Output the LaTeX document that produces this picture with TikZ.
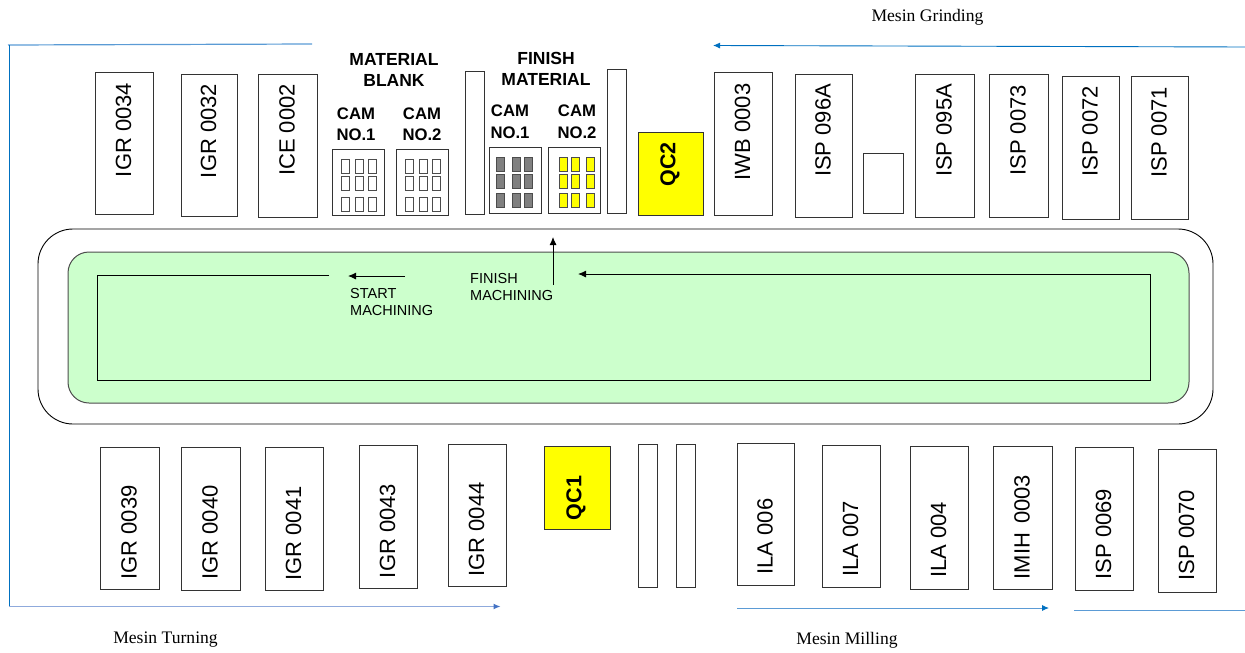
\documentclass[tikz,border=0pt]{standalone}
\usepackage{fontspec}
\setmainfont{Liberation Sans}
\newfontfamily\serifcap{Liberation Serif}
\usetikzlibrary{arrows.meta}
\definecolor{flowblue}{RGB}{0,112,192}
\definecolor{flowlight}{RGB}{91,155,213}
\definecolor{flowpale}{RGB}{143,170,220}
\definecolor{tipblue}{RGB}{68,114,196}
\definecolor{floorgreen}{RGB}{204,255,204}
\definecolor{qcyellow}{RGB}{255,255,0}
\definecolor{cellgray}{RGB}{128,128,128}
\tikzset{
  x=1pt,y=-1pt,
  boxed/.style={draw=black!80,line width=0.9pt,inner sep=0,outer sep=0,rectangle},
  machlabel/.style={rotate=90,inner sep=0,font=\fontsize{22}{22}\selectfont},
  qclabel/.style={rotate=90,inner sep=0,font=\fontsize{21.5}{22}\bfseries\selectfont},
  headlabel/.style={align=center,inner sep=0,font=\fontsize{17.5}{21}\bfseries\selectfont},
  camlabel/.style={align=center,inner sep=0,font=\fontsize{16.7}{21.5}\bfseries\selectfont},
  notelabel/.style={align=left,inner sep=0,anchor=north west,font=\fontsize{14.5}{17}\selectfont},
  caption/.style={inner sep=0,font=\fontsize{17.6}{18}\serifcap\selectfont},
  flow/.style={draw=flowblue,line width=0.9pt},
  flowtip/.style={-{Latex[length=7pt,width=6pt]}},
  route/.style={draw=black,line width=0.9pt},
  routetip/.style={-{Latex[length=8pt,width=7pt]}},
  cellblank/.style={boxed,draw=black!70,line width=1pt,fill=white,minimum width=8pt,minimum height=14pt},
  cellgrey/.style={boxed,draw=black!70,line width=1pt,fill=cellgray,minimum width=8pt,minimum height=14pt},
  cellyellow/.style={boxed,draw=black!70,line width=1pt,fill=qcyellow,minimum width=8pt,minimum height=14pt},
}
\newcommand{\plainbox}[6][]{%
  \pgfmathsetlengthmacro{\bw}{(#5-#3)*1pt}%
  \pgfmathsetlengthmacro{\bh}{(#6-#4)*1pt}%
  \node[boxed,minimum width=\bw,minimum height=\bh,#1] (#2) at ({(#3+#5)/2},{(#4+#6)/2}) {};}
\newcommand{\machine}[7]{%
  \plainbox{#1}{#2}{#3}{#4}{#5}%
  \node[machlabel] (#1-label) at ({(#2+#4)/2-0.5},#6) {#7};}
\newcommand{\cellgrid}[4]{%
  \foreach \cx [count=\ci] in {#3}{%
    \foreach \cy [count=\cj] in {#4}{%
      \node[#2] (#1-\ci-\cj) at (\cx,\cy) {};}}}
\begin{document}
\begin{tikzpicture}
\useasboundingbox (0,0) rectangle (1245,653);
% floor
\node[draw=black,line width=0.9pt,rounded corners=35pt,minimum width=1175pt,minimum height=195pt,inner sep=0,outer sep=0] (track) at (625.5,326.5) {};
\node[draw=black!70,fill=floorgreen,line width=1pt,rounded corners=21pt,minimum width=1121pt,minimum height=151pt,inner sep=0,outer sep=0] (floor) at (628.5,327.5) {};
% top row
\machine{igr34}{95}{72}{153}{214}{130}{IGR 0034}
\machine{igr32}{181}{74}{237}{216}{131}{IGR 0032}
\machine{ice2}{258}{74}{317}{217}{130}{ICE 0002}
\plainbox{bara}{465}{71}{484}{214}
\plainbox{barb}{607}{69}{626}{213}
\plainbox[fill=qcyellow]{qctwo}{638}{132}{703}{215}
\node[qclabel] (qctwo-label) at (670,164.5) {QC2};
\machine{iwb3}{714}{72}{772}{215}{132}{IWB 0003}
\machine{isp96}{795}{74}{852}{217}{130.5}{ISP 096A}
\plainbox{smallbox}{863}{153}{903}{213}
\machine{isp95}{915}{74}{974}{217}{130.5}{ISP 095A}
\machine{isp73}{989}{74}{1048}{217}{130.5}{ISP 0073}
\machine{isp72}{1062}{76}{1119}{219}{131.5}{ISP 0072}
\machine{isp71}{1131}{76}{1188}{219}{132.5}{ISP 0071}
% bottom row
\machine{igr39}{100}{447}{159}{589}{532.5}{IGR 0039}
\machine{igr40}{181}{447}{240}{590}{532.5}{IGR 0040}
\machine{igr41}{265}{447}{323}{590}{533.5}{IGR 0041}
\machine{igr43}{359}{445}{417}{588}{531}{IGR 0043}
\machine{igr44}{448}{444}{506}{586}{529.5}{IGR 0044}
\plainbox[fill=qcyellow]{qcone}{544}{446}{610}{529}
\node[qclabel] (qcone-label) at (576,498) {QC1};
\plainbox{barc}{638}{444}{657}{587}
\plainbox{bard}{676}{444}{695}{587}
\machine{ila6}{737}{443}{794}{585}{536.5}{ILA 006}
\machine{ila7}{822}{445}{880}{587}{539}{ILA 007}
\machine{ila4}{910}{446}{968}{589}{540}{ILA 004}
\machine{imih3}{993}{446}{1052}{589}{527}{IMIH\kern3pt{} 0003}
\machine{isp69}{1075}{447}{1133}{590}{534}{ISP 0069}
\machine{isp70}{1158}{449}{1216}{592}{535}{ISP 0070}
% cam boxes
\plainbox{blankone}{332}{149}{384}{215}
\plainbox{blanktwo}{396}{149}{448}{215}
\plainbox{finone}{489}{147}{541}{213}
\plainbox{fintwo}{548}{147}{600}{213}
\cellgrid{ba}{cellblank}{345,359,372}{166,183,204}
\cellgrid{bb}{cellblank}{409,423,436}{166,183,204}
\cellgrid{fa}{cellgrey}{500,516,528}{164,181,200}
\cellgrid{fb}{cellyellow}{563,575,590}{164,181,200}
% headings
\node[headlabel] (headblank) at (394,70) {MATERIAL\\BLANK};
\node[headlabel] (headfin) at (546,69) {FINISH\\MATERIAL};
\node[camlabel] (cama) at (356,124) {CAM\\NO.1};
\node[camlabel] (camb) at (422,124) {CAM\\NO.2};
\node[camlabel] (camc) at (510,122) {CAM\\NO.1};
\node[camlabel] (camd) at (577,122) {CAM\\NO.2};
% notes
\node[notelabel] (startnote) at (350,288.5) {START\\MACHINING};
\node[notelabel] (finnote) at (470,273.5) {FINISH\\MACHINING};
% route
\coordinate (r1) at (329,275);
\coordinate (r2) at (97,275);
\coordinate (r3) at (97,380);
\coordinate (r4) at (1150,380);
\coordinate (r5) at (1150,274);
\coordinate (r6) at (578,274);
\draw[route] (r1) -- (r2) -- (r3) -- (r4) -- (r5);
\draw[route,routetip] (r5) -- (r6);
\coordinate (s1) at (405,276);
\coordinate (s2) at (348,276);
\draw[route,routetip] (s1) -- (s2);
\coordinate (f1) at (553,285);
\coordinate (f2) at (553,237);
\draw[route,routetip] (f1) -- (f2);
% blue flows
\coordinate (b1) at (312,44);
\coordinate (b2) at (8,45);
\coordinate (b3) at (9,45);
\coordinate (b4) at (9,606.5);
\coordinate (b5) at (500.5,606.5);
\draw[flow,draw=flowlight,line width=1.2pt] (b1) -- (b2);
\draw[flow] (b3) -- (b4);
\draw[flow,draw=flowpale,line width=1.2pt,-{Latex[length=7pt,width=6pt,color=tipblue]}] (b4) -- (b5);
\coordinate (c1) at (1245,47);
\coordinate (c2) at (713,45.5);
\draw[flow,flowtip] (c1) -- (c2);
\coordinate (d1) at (737,608);
\coordinate (d2) at (1049,608);
\draw[flow,draw=flowlight,-{Latex[length=7pt,width=6pt,color=flowblue]}] (d1) -- (d2);
\coordinate (e1) at (1074,610);
\coordinate (e2) at (1245,610);
\draw[flow,draw=flowlight] (e1) -- (e2);
% captions
\node[caption] (capgrind) at (927.5,17) {Mesin Grinding};
\node[caption] (capturn) at (165.5,640) {Mesin Turning};
\node[caption] (capmill) at (847,640) {Mesin Milling};
\end{tikzpicture}
\end{document}
